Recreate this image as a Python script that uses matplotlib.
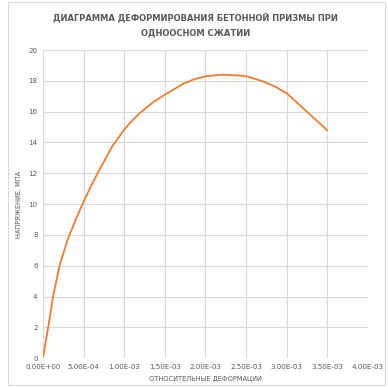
import matplotlib.pyplot as plt
from matplotlib.patches import Rectangle

# strain / stress
strain = [0.0, 0.06e-3, 0.12e-3, 0.2e-3, 0.3e-3, 0.4e-3, 0.5e-3, 0.6e-3,
          0.7e-3, 0.85e-3, 1.0e-3, 1.1e-3, 1.2e-3, 1.35e-3, 1.5e-3, 1.6e-3,
          1.73e-3, 1.85e-3, 2.0e-3, 2.2e-3, 2.4e-3, 2.5e-3, 2.6e-3, 2.72e-3,
          2.85e-3, 3.0e-3, 3.25e-3, 3.5e-3]
stress = [0.15, 2.0, 4.0, 6.0, 7.7, 9.0, 10.2, 11.3,
          12.3, 13.75, 14.85, 15.45, 15.95, 16.6, 17.1, 17.42,
          17.82, 18.08, 18.3, 18.4, 18.35, 18.3, 18.15, 17.94,
          17.65, 17.2, 16.0, 14.8]

x_ticks = [0.0, 0.5e-3, 1.0e-3, 1.5e-3, 2.0e-3, 2.5e-3, 3.0e-3, 3.5e-3, 4.0e-3]
x_tick_labels = ["0.00E+00", "5.00E-04", "1.00E-03", "1.50E-03", "2.00E-03",
                 "2.50E-03", "3.00E-03", "3.50E-03", "4.00E-03"]
y_ticks = [0, 2, 4, 6, 8, 10, 12, 14, 16, 18, 20]

title = "ДИАГРАММА ДЕФОРМИРОВАНИЯ БЕТОННОЙ ПРИЗМЫ ПРИ\nОДНООСНОМ СЖАТИИ"
xlabel = "ОТНОСИТЕЛЬНЫЕ ДЕФОРМАЦИИ"
ylabel = "НАПРЯЖЕНИЕ, МПА"

plt.rcParams['font.family'] = ['DejaVu Sans']
gray = "#595959"
grid_c = "#d9d9d9"

fig = plt.figure(figsize=(3.88, 3.87), dpi=100)
fig.patches.append(Rectangle((8 / 388, 2 / 387), 377 / 388, 383 / 387,
                             transform=fig.transFigure, fill=False,
                             edgecolor=grid_c, linewidth=0.8))

ax = fig.add_axes([0.1116, 0.0742, 0.836, 0.7966])
ax.plot(strain, stress, color="#ED7D31", linewidth=1.3, solid_capstyle="round",
        solid_joinstyle="round")

ax.set_xlim(0, 4.0e-3)
ax.set_ylim(0, 20)
ax.set_xticks(x_ticks)
ax.set_xticklabels(x_tick_labels)
ax.set_yticks(y_ticks)
ax.grid(True, color=grid_c, linewidth=0.8)
ax.set_axisbelow(True)
for s in ax.spines.values():
    s.set_visible(False)
ax.tick_params(length=0, labelsize=5.1, colors=gray, pad=4)

ax.set_xlabel(xlabel, fontsize=4.8, color=gray, labelpad=4)
ax.set_ylabel(ylabel, fontsize=4.8, color=gray, labelpad=5)

fig.text(0.503, 0.935, title, ha="center", va="center", fontsize=6.0,
         fontweight="bold", color=gray, linespacing=1.8)

fig.savefig("out.png", dpi=100)
